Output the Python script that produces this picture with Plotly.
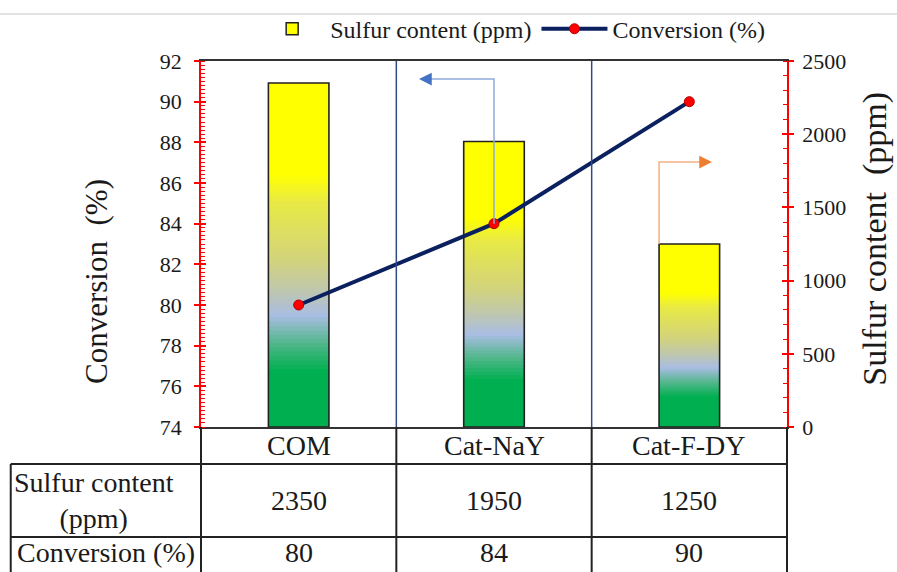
import plotly.graph_objects as go

# ---------------- data ----------------
categories = ["COM", "Cat-NaY", "Cat-F-DY"]
sulfur_ppm = [2350, 1950, 1250]
conversion_pct = [80, 84, 90]
row_labels = ["Sulfur content<br>(ppm)", "Conversion (%)"]
left_title = "Conversion  (%)"
right_title = "Sulfur content  (ppm)"

conv_range = [74, 92]
sulfur_range = [0, 2500]

# vertical gradient of the bars (fraction of bar height -> colour)
gradient_stops = [
    (0.00, "#00B050"),
    (0.17, "#00B050"),
    (0.25, "#52B78C"),
    (0.33, "#A9BDE3"),
    (0.40, "#BEC6B0"),
    (0.49, "#D2D37C"),
    (0.66, "#E8EA45"),
    (0.74, "#FFFF00"),
    (1.00, "#FFFF00"),
]

FONT = "Liberation Serif, Times New Roman, serif"
TXT = "#1a1a1a"
RED = "#FF0000"
NAVY = "#0B205E"
BAR_W = 0.31
N_SEG = 80


def hex2rgb(h):
    h = h.lstrip("#")
    return tuple(int(h[i:i + 2], 16) for i in (0, 2, 4))


def grad_color(t):
    for (t0, c0), (t1, c1) in zip(gradient_stops[:-1], gradient_stops[1:]):
        if t0 <= t <= t1:
            f = 0 if t1 == t0 else (t - t0) / (t1 - t0)
            a, b = hex2rgb(c0), hex2rgb(c1)
            r = [round(a[i] + (b[i] - a[i]) * f) for i in range(3)]
            return "rgb(%d,%d,%d)" % tuple(r)
    return gradient_stops[-1][1]


fig = go.Figure()

# legend entry for the bars
fig.add_trace(go.Bar(
    x=categories, y=[None] * len(categories), yaxis="y", name="Sulfur content (ppm)",
    marker=dict(color="#FFFF00", line=dict(color="#222222", width=1.5)),
    width=BAR_W, hoverinfo="skip", showlegend=True,
))

# gradient-filled bars, built from stacked thin segments of each value
for k in range(N_SEG):
    lo = max(k - 0.5, 0) / N_SEG
    hi = (k + 1) / N_SEG
    fig.add_trace(go.Bar(
        x=categories,
        base=[v * lo for v in sulfur_ppm],
        y=[v * (hi - lo) for v in sulfur_ppm],
        yaxis="y", width=BAR_W,
        marker=dict(color=grad_color((k + 0.5) / N_SEG), line=dict(width=0)),
        showlegend=False, hoverinfo="skip",
    ))

# bar outlines
fig.add_trace(go.Bar(
    x=categories, y=sulfur_ppm, yaxis="y", width=BAR_W,
    marker=dict(color="rgba(0,0,0,0)", line=dict(color="#222222", width=1.6)),
    showlegend=False, hoverinfo="skip",
))

# conversion line
fig.add_trace(go.Scatter(
    x=categories, y=conversion_pct, yaxis="y2", name="Conversion (%)",
    mode="lines+markers",
    line=dict(color=NAVY, width=4),
    marker=dict(color=RED, size=10, line=dict(color="#B00000", width=1)),
    hoverinfo="skip",
))

# invisible traces so the extra tick axes are drawn
fig.add_trace(go.Scatter(x=categories, y=[None] * 3, yaxis="y3", showlegend=False, hoverinfo="skip"))
fig.add_trace(go.Scatter(x=categories, y=[None] * 3, yaxis="y4", showlegend=False, hoverinfo="skip"))

tickfont = dict(family=FONT, size=22, color=TXT)

# ---------------- table & decorations ----------------
shapes = []
annotations = []
BLK = "#222222"
y_hdr_bot, y_row2_bot, y_bot = -0.1011, -0.3005, -0.3962
x_outer = -0.3247

# grey line near the top of the image
shapes.append(dict(type="line", xref="paper", yref="paper", x0=-0.35, x1=1.2,
                   y0=1.1284, y1=1.1284, line=dict(color="#C8C8C8", width=1)))

# category dividers (navy inside plot, black in table)
for xd in [0.5, 1.5]:
    shapes.append(dict(type="line", xref="x", yref="paper", x0=xd, x1=xd, y0=0, y1=1,
                       line=dict(color="#2E4A87", width=1.5)))
    shapes.append(dict(type="line", xref="x", yref="paper", x0=xd, x1=xd, y0=y_bot, y1=0,
                       line=dict(color=BLK, width=2)))
# table left / right borders
for xp in [0, 1]:
    shapes.append(dict(type="line", xref="paper", yref="paper", x0=xp, x1=xp, y0=y_bot, y1=0,
                       line=dict(color=BLK, width=2)))
shapes.append(dict(type="line", xref="paper", yref="paper", x0=x_outer, x1=x_outer,
                   y0=y_bot, y1=y_hdr_bot, line=dict(color=BLK, width=2)))
for yh in [y_hdr_bot, y_row2_bot]:
    shapes.append(dict(type="line", xref="paper", yref="paper", x0=x_outer, x1=1,
                       y0=yh, y1=yh, line=dict(color=BLK, width=2)))

cell_font = dict(family=FONT, size=28, color=TXT)
for c, s, v in zip(categories, sulfur_ppm, conversion_pct):
    annotations.append(dict(xref="x", yref="paper", x=c, y=-0.0505, text=c, showarrow=False,
                            font=cell_font, xanchor="center", yanchor="middle"))
    annotations.append(dict(xref="x", yref="paper", x=c, y=-0.2008, text=str(s), showarrow=False,
                            font=cell_font, xanchor="center", yanchor="middle"))
    annotations.append(dict(xref="x", yref="paper", x=c, y=-0.342, text=str(v), showarrow=False,
                            font=cell_font, xanchor="center", yanchor="middle"))
annotations.append(dict(xref="paper", yref="paper", x=-0.183, y=-0.2008, text=row_labels[0],
                        showarrow=False, font=cell_font, xanchor="center", yanchor="middle"))
annotations.append(dict(xref="paper", yref="paper", x=-0.162, y=-0.342, text=row_labels[1],
                        showarrow=False, font=cell_font, xanchor="center", yanchor="middle"))

# axis titles (placed like the original, not centred on the axes)
annotations.append(dict(xref="paper", yref="paper", x=-0.1775, y=0.399, text=left_title,
                        textangle=-90, showarrow=False, xanchor="center", yanchor="middle",
                        font=dict(family=FONT, size=31, color=TXT)))
annotations.append(dict(xref="paper", yref="paper", x=1.151, y=0.516, text=right_title,
                        textangle=-90, showarrow=False, xanchor="center", yanchor="middle",
                        font=dict(family=FONT, size=34, color=TXT)))

# guide arrows
blue_y = 91.11
blue_tip = 0.616
shapes.append(dict(type="path", xref="x", yref="y2",
                   path="M 1 %g L 1 %g L %g %g" % (conversion_pct[1], blue_y, blue_tip + 0.03, blue_y),
                   line=dict(color="#8FAADC", width=1.5)))
annotations.append(dict(xref="x", yref="y2", x=blue_tip, y=blue_y, ax=blue_tip + 0.05, ay=blue_y,
                        axref="x", ayref="y2", showarrow=True, arrowhead=2, arrowsize=1.7,
                        arrowwidth=1.5, arrowcolor="#4472C4", text=""))
or_x = 2 - BAR_W / 2
or_y = 1810
or_tip = 2.116
shapes.append(dict(type="path", xref="x", yref="y",
                   path="M %g %g L %g %g L %g %g" % (or_x, sulfur_ppm[2], or_x, or_y, or_tip - 0.03, or_y),
                   line=dict(color="#F4B183", width=1.5)))
annotations.append(dict(xref="x", yref="y", x=or_tip, y=or_y, ax=or_tip - 0.05, ay=or_y,
                        axref="x", ayref="y", showarrow=True, arrowhead=2, arrowsize=1.7,
                        arrowwidth=1.5, arrowcolor="#ED7D31", text=""))

fig.update_layout(
    width=897, height=572,
    margin=dict(l=201, r=110, t=61, b=145, autoexpand=False),
    paper_bgcolor="white", plot_bgcolor="white",
    barmode="overlay",
    hovermode=False,
    font=dict(family=FONT, color=TXT),
    legend=dict(orientation="h", x=0.531, xanchor="center", y=1.087, yanchor="middle",
                itemwidth=66,
                font=dict(family=FONT, size=24, color=TXT), bgcolor="rgba(0,0,0,0)"),
    xaxis=dict(type="category", categoryorder="array", categoryarray=categories,
               range=[-0.5, 2.5], showticklabels=False, ticks="", showline=True,
               linecolor="#333333", linewidth=2, mirror=True, showgrid=False, zeroline=False),
    yaxis=dict(side="right", range=sulfur_range, tick0=0, dtick=500, ticks="outside",
               ticklen=5, tickwidth=1.5, tickcolor=RED, showline=True, linecolor=RED,
               linewidth=1.5, showgrid=False, zeroline=False, tickfont=tickfont,
               ticklabelstandoff=4,
               minor=dict(tick0=0, dtick=100, ticks="inside", ticklen=4, tickcolor=RED, tickwidth=1.2)),
    yaxis2=dict(overlaying="y", side="left", range=conv_range, tick0=74, dtick=2,
                ticks="outside", ticklen=5, tickwidth=1.5, tickcolor=RED, showline=True,
                linecolor=RED, linewidth=1.5, showgrid=False, zeroline=False, tickfont=tickfont,
                ticklabelstandoff=8,
                minor=dict(tick0=74, dtick=0.2, ticks="inside", ticklen=4, tickcolor=RED, tickwidth=1.2)),
    yaxis3=dict(overlaying="y", side="right", range=sulfur_range, tick0=0, dtick=500,
                ticks="inside", ticklen=5, tickwidth=1.5, tickcolor=RED, showticklabels=False,
                showline=False, showgrid=False, zeroline=False),
    yaxis4=dict(overlaying="y", side="left", range=conv_range, tick0=74, dtick=2,
                ticks="inside", ticklen=5, tickwidth=1.5, tickcolor=RED, showticklabels=False,
                showline=False, showgrid=False, zeroline=False),
    shapes=shapes,
    annotations=annotations,
)

fig.write_html("out.html", config={"displayModeBar": False},
               post_script="document.body.style.margin='0';")
